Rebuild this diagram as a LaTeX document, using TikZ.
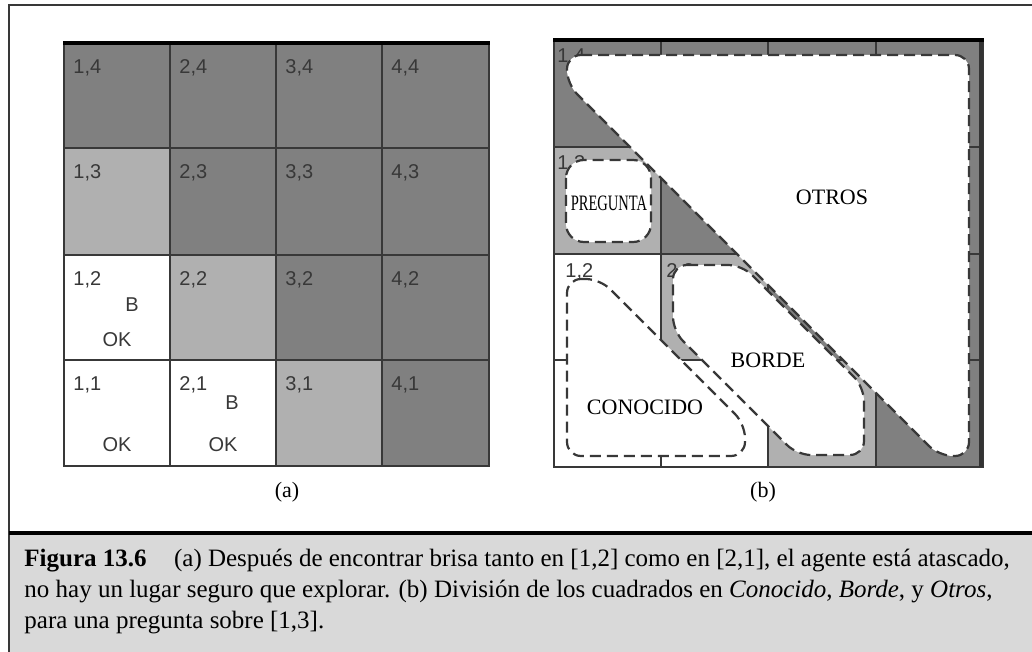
\documentclass[tikz,border=0pt]{standalone}
\usepackage{fontspec}
\setmainfont{Liberation Serif}
\setsansfont{Liberation Sans}
\usetikzlibrary{positioning}
\definecolor{darkcell}{gray}{0.5}
\definecolor{lightcell}{gray}{0.69}
\definecolor{capfill}{gray}{0.85}
\definecolor{inkgray}{gray}{0.22}

\begin{document}
\begin{tikzpicture}[x=0.5pt, y=-0.5pt,
    gridline/.style={draw=inkgray, line width=0.7pt},
    cellno/.style={font=\sffamily\fontsize{10}{12}\selectfont, text=inkgray, inner sep=0pt},
    region/.style={draw=inkgray, line width=1.1pt, dash pattern=on 5.5pt off 3pt,
                   fill=white, rounded corners=7pt},
    zone/.style={font=\fontsize{11}{13}\selectfont, inner sep=0pt}
  ]
  \useasboundingbox (0,0) rectangle (1032,652);

  % page frame and caption box
  \fill[capfill] (9,534) rectangle (1032,652);
  \draw[inkgray, line width=0.8pt] (1032,5) -- (9,5) -- (9,652);
  \draw[black, line width=1.6pt] (9,533) -- (1032,533);

  % (a) grid
  \fill[darkcell] (64,43) rectangle (489,466);
  \fill[lightcell] (64,148) rectangle (170,255);
  \fill[white] (64,255) rectangle (170,466);
  \fill[lightcell] (170,255) rectangle (276,360);
  \fill[white] (170,360) rectangle (276,466);
  \fill[lightcell] (276,360) rectangle (382,466);
  \foreach \x in {170,276,382} \draw[gridline] (\x,43) -- (\x,466);
  \foreach \y in {148,255,360} \draw[gridline] (64,\y) -- (489,\y);
  \draw[inkgray, line width=1.2pt] (64,43) rectangle (489,466);
  \draw[black, line width=1.6pt] (63,43) -- (490,43);

  \foreach \c/\x in {1/64,2/170,3/276,4/382}
    \foreach \r/\y in {4/43,3/148,2/255,1/360}
      \node[cellno, anchor=west] (a\c\r) at (\x+9,\y+25) {\c,\r};
  \node[cellno] (b12) at (132,305) {B};
  \node[cellno] (ok12) at (117,340) {OK};
  \node[cellno] (ok11) at (117,445) {OK};
  \node[cellno] (b21) at (232,403) {B};
  \node[cellno] (ok21) at (223,445) {OK};

  % (b) grid
  \fill[darkcell] (554,40) rectangle (983,467);
  \fill[lightcell] (554,147) rectangle (661,254);
  \fill[white] (554,254) rectangle (661,467);
  \fill[lightcell] (661,254) rectangle (768,360);
  \fill[white] (661,360) rectangle (768,467);
  \fill[lightcell] (768,360) rectangle (876,467);
  \foreach \x in {661,768,876} \draw[gridline] (\x,40) -- (\x,467);
  \foreach \y in {147,254,360} \draw[gridline] (554,\y) -- (983,\y);
  \draw[inkgray, line width=1.2pt] (554,40) rectangle (983,467);
  \draw[gray!40!black, line width=2pt] (981,40) -- (981,467);
  \draw[black, line width=1.6pt] (553,40) -- (984,40);

  \node[cellno, anchor=west] (q14) at (557,57) {1,4};
  \node[cellno, anchor=west] (q13) at (557,164) {1,3};
  \node[cellno, anchor=west] (q12) at (565,272) {1,2};
  \node[cellno, anchor=west] (q22) at (666,272) {2,2};

  % dashed zones
  \draw[region] (567,55) -- (969,55) -- (969,456) -- (939,456) -- (567,84) -- cycle;
  \draw[region, rounded corners=9pt] (566,160) rectangle (651,242);
  \draw[region] (673,265) -- (742,265) -- (864,387) -- (864,455) -- (797,455)
    -- (673,331) -- cycle;
  \draw[region] (567,279) -- (600,279) -- (745,424) -- (745,456) -- (567,456) -- cycle;

  \node[zone] (otros) at (832,197) {OTROS};
  \node[zone] (pregunta) at (609,203) {\scalebox{0.66}[1]{PREGUNTA}};
  \node[zone] (borde) at (768,360) {BORDE};
  \node[zone] (conocido) at (645,407) {CONOCIDO};

  \node[zone] (capa) at (287,492) {(a)};
  \node[zone] (capb) at (763,492) {(b)};

  % caption
  \node[anchor=north west, align=left, inner sep=0pt,
        font=\fontsize{12.5}{15.4}\selectfont] (caption) at (24,549)
    {\textbf{Figura 13.6}\hspace{1.1em}(a) Después de encontrar brisa tanto en [1,2] como en [2,1], el agente está atascado,\\
     no hay un lugar seguro que explorar. (b) División de los cuadrados en \textit{Conocido}, \textit{Borde}, y \textit{Otros},\\
     para una pregunta sobre [1,3].};
\end{tikzpicture}
\end{document}
